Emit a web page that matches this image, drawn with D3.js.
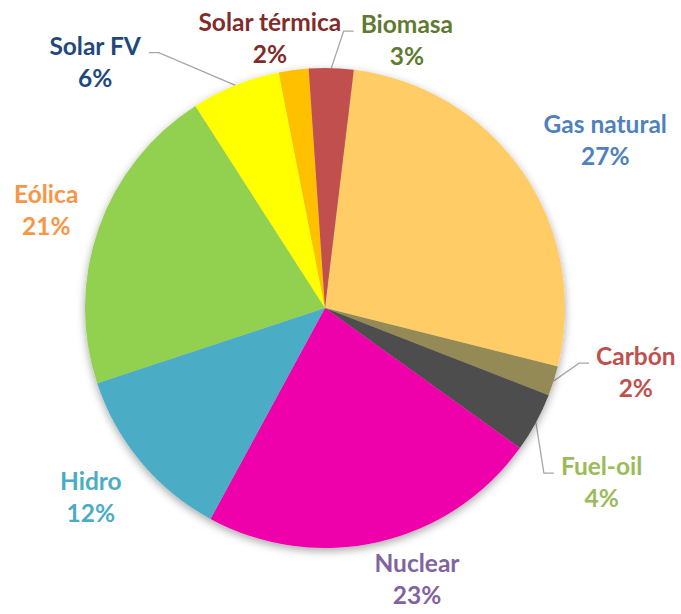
<!DOCTYPE html>
<html>
<head>
<meta charset="utf-8">
<script src="https://cdn.jsdelivr.net/npm/d3@7"></script>
<style>
  body { margin: 0; background: #fff; }
  text { font-family: Lato, "Open Sans", sans-serif; font-weight: bold; }
</style>
</head>
<body>
<div id="chart"></div>
<script>
// Data
const categories = ["Gas natural", "Carbón", "Fuel-oil", "Nuclear", "Hidro", "Eólica", "Solar FV", "Solar térmica", "Biomasa"];
const values = [27, 2, 4, 23, 12, 21, 6, 2, 3];
const percentLabels = ["27%", "2%", "4%", "23%", "12%", "21%", "6%", "2%", "3%"];

// Styles
const fillColors = ["#FFCC66", "#948A54", "#4D4D4D", "#EE00AA", "#4BACC6", "#92D050", "#FFFF00", "#FFC000", "#C0504D"];
const labelColors = ["#4F81BD", "#C0504D", "#9BBB59", "#8064A2", "#4BACC6", "#F79646", "#1F497D", "#7F2C2A", "#5F7A31"];
const hasLeader = [false, true, true, false, false, false, true, false, true];

const width = 681, height = 614;
const cx = 325, cy = 308, radius = 240;
const labelRadius = 300;
const rotation = 6.9 * Math.PI / 180;   // first slice angle
// label nudges relative to polar position at labelRadius
const nudges = [[33, 3], [25, -26], [13, 32], [25, -20], [-4, -2], [4, 3], [-118, 33], [-16, 28], [74, 33]];

let svg = d3.select("#chart")
    .append("svg")
    .attr("width", width)
    .attr("height", height);

let defs = svg.append("defs");
let filter = defs.append("filter")
    .attr("id", "shadow")
    .attr("x", "-20%").attr("y", "-20%")
    .attr("width", "140%").attr("height", "140%");
filter.append("feDropShadow")
    .attr("dx", 0).attr("dy", 3)
    .attr("stdDeviation", 4)
    .attr("flood-color", "#000")
    .attr("flood-opacity", 0.35);

let g = svg.append("g")
    .attr("transform", `translate(${cx}, ${cy})`);

let pie = d3.pie()
    .sort(null)
    .startAngle(rotation)
    .endAngle(rotation + 2 * Math.PI);
let arcs = pie(values);

let arc = d3.arc()
    .innerRadius(0)
    .outerRadius(radius);

let slices = g.append("g").attr("filter", "url(#shadow)");
slices.selectAll("path")
    .data(arcs)
    .enter()
    .append("path")
    .attr("d", arc)
    .attr("fill", (d, i) => fillColors[i]);

const polar = (a, r) => [r * Math.sin(a), -r * Math.cos(a)];

// Labels
let labels = g.append("g");
arcs.forEach(function(d, i) {
    let mid = (d.startAngle + d.endAngle) / 2;
    let p = polar(mid, labelRadius);
    let x = p[0] + nudges[i][0];
    let y = p[1] + nudges[i][1] - 8;   // baseline of first line
    let t = labels.append("text")
        .attr("text-anchor", "middle")
        .attr("fill", labelColors[i])
        .style("font-size", "24.5px");
    t.append("tspan").attr("x", x).attr("y", y).text(categories[i]);
    t.append("tspan").attr("x", x).attr("y", y + 32).text(percentLabels[i]);

    if (hasLeader[i]) {
        let bb = t.node().getBBox();
        let start = polar(mid, radius);
        let ly = y - 2;
        let pts;
        if (bb.x + bb.width / 2 < start[0]) {
            let edge = bb.x + bb.width;
            pts = [start, [edge + 17, ly], [edge + 7, ly]];
        } else {
            let edge = bb.x;
            pts = [start, [edge - 17, ly], [edge - 7, ly]];
        }
        g.insert("path", ":first-child")
            .attr("d", d3.line()(pts))
            .attr("fill", "none")
            .attr("stroke", "#A6A6A6")
            .attr("stroke-width", 1.3);
    }
});
</script>
</body>
</html>
